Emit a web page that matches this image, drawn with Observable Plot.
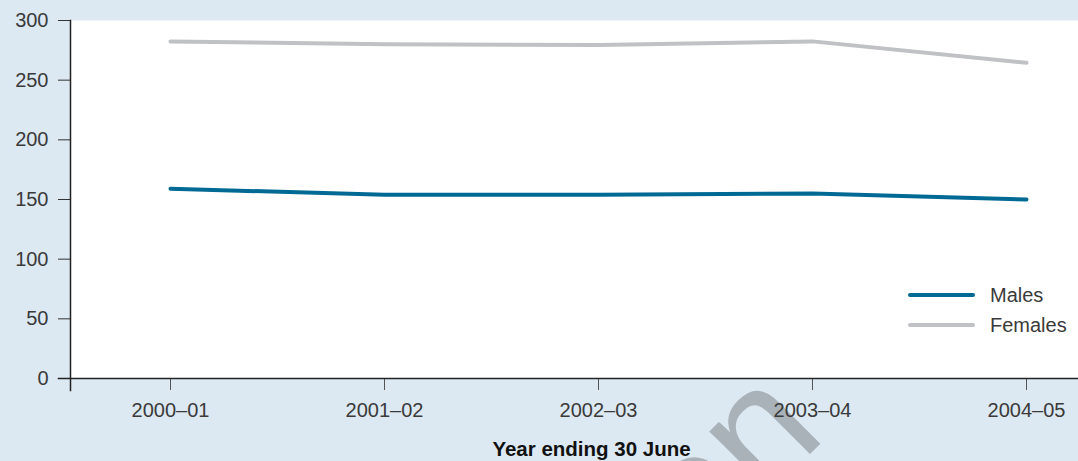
<!DOCTYPE html>
<html>
<head>
<meta charset="utf-8">
<script src="https://cdn.jsdelivr.net/npm/d3@7"></script>
<script src="https://cdn.jsdelivr.net/npm/@observablehq/plot@0.6"></script>
<style>
  html, body { margin: 0; padding: 0; background: #dde9f2; }
  #wrap { position: relative; width: 1078px; height: 461px; overflow: hidden; font-family: "Liberation Sans", Arial, sans-serif; }
  #wm { position: absolute; left: 0; top: 0; }
  #chart { position: absolute; left: 0; top: 0; }
  #legend { position: absolute; left: 908px; top: 280px; font-size: 20px; color: #3a3a3a; }
  #legend .row { display: flex; align-items: center; height: 30px; }
  #legend .sw { width: 67px; height: 4px; border-radius: 2px; margin-right: 15px; }
</style>
</head>
<body>
<div id="wrap">
  <svg id="wm" width="1078" height="461">
    <text x="828" y="436" text-anchor="end" font-family="Liberation Sans, Arial, sans-serif" font-size="165" fill="#a9b2b9" transform="rotate(-45 828 436)">version</text>
  </svg>
  <div id="chart"></div>
  <div id="legend"></div>
</div>
<script>
const years = ["2000–01", "2001–02", "2002–03", "2003–04", "2004–05"];
const males = [159, 154, 154, 155, 150];
const females = [282.5, 280, 279.5, 282.5, 264.5];
const seriesNames = ["Males", "Females"];
const seriesColors = ["#006a94", "#c0c1c4"];
const yTicks = [0, 50, 100, 150, 200, 250, 300];
const xTitle = "Year ending 30 June";

const data = [];
years.forEach((y, i) => data.push({year: y, value: females[i], series: "Females"}));
years.forEach((y, i) => data.push({year: y, value: males[i], series: "Males"}));

const chart = Plot.plot({
  width: 1078,
  height: 461,
  marginTop: 20,
  marginBottom: 83,
  marginLeft: 70,
  marginRight: 0,
  style: {background: "transparent", fontFamily: "Liberation Sans, Arial, sans-serif", fontSize: "20px", color: "#3a3a3a"},
  x: {type: "point", domain: years, range: [170, 1029], padding: 0, align: 0, label: null},
  y: {domain: [0, 300], label: null},
  color: {domain: seriesNames, range: seriesColors},
  marks: [
    Plot.frame({fill: "white", stroke: null}),
    Plot.axisY({ticks: yTicks, tickSize: 12, tickPadding: 10, label: null, stroke: "#333", fill: "#3a3a3a", fontSize: 20}),
    Plot.axisX({tickSize: 12, tickPadding: 12, label: null, stroke: "#555", fill: "#3a3a3a", fontSize: 20}),
    Plot.frame({anchor: "left", stroke: "#222", strokeWidth: 1.5, insetBottom: -12}),
    Plot.frame({anchor: "bottom", stroke: "#222", strokeWidth: 1.5, insetLeft: -12}),
    Plot.line(data, {x: "year", y: "value", stroke: "series", strokeWidth: 4, strokeLinecap: "round", strokeLinejoin: "round", z: "series"}),
    Plot.text([xTitle], {x: () => years[2], frameAnchor: "bottom", lineAnchor: "middle", dy: 71, dx: -7, fontWeight: "bold", fontSize: 20.5, fill: "#111"})
  ]
});
document.getElementById("chart").appendChild(chart);

const legend = document.getElementById("legend");
seriesNames.forEach((name, i) => {
  const row = document.createElement("div");
  row.className = "row";
  const sw = document.createElement("div");
  sw.className = "sw";
  sw.style.background = seriesColors[i];
  const lab = document.createElement("span");
  lab.textContent = name;
  row.appendChild(sw);
  row.appendChild(lab);
  legend.appendChild(row);
});
</script>
</body>
</html>
